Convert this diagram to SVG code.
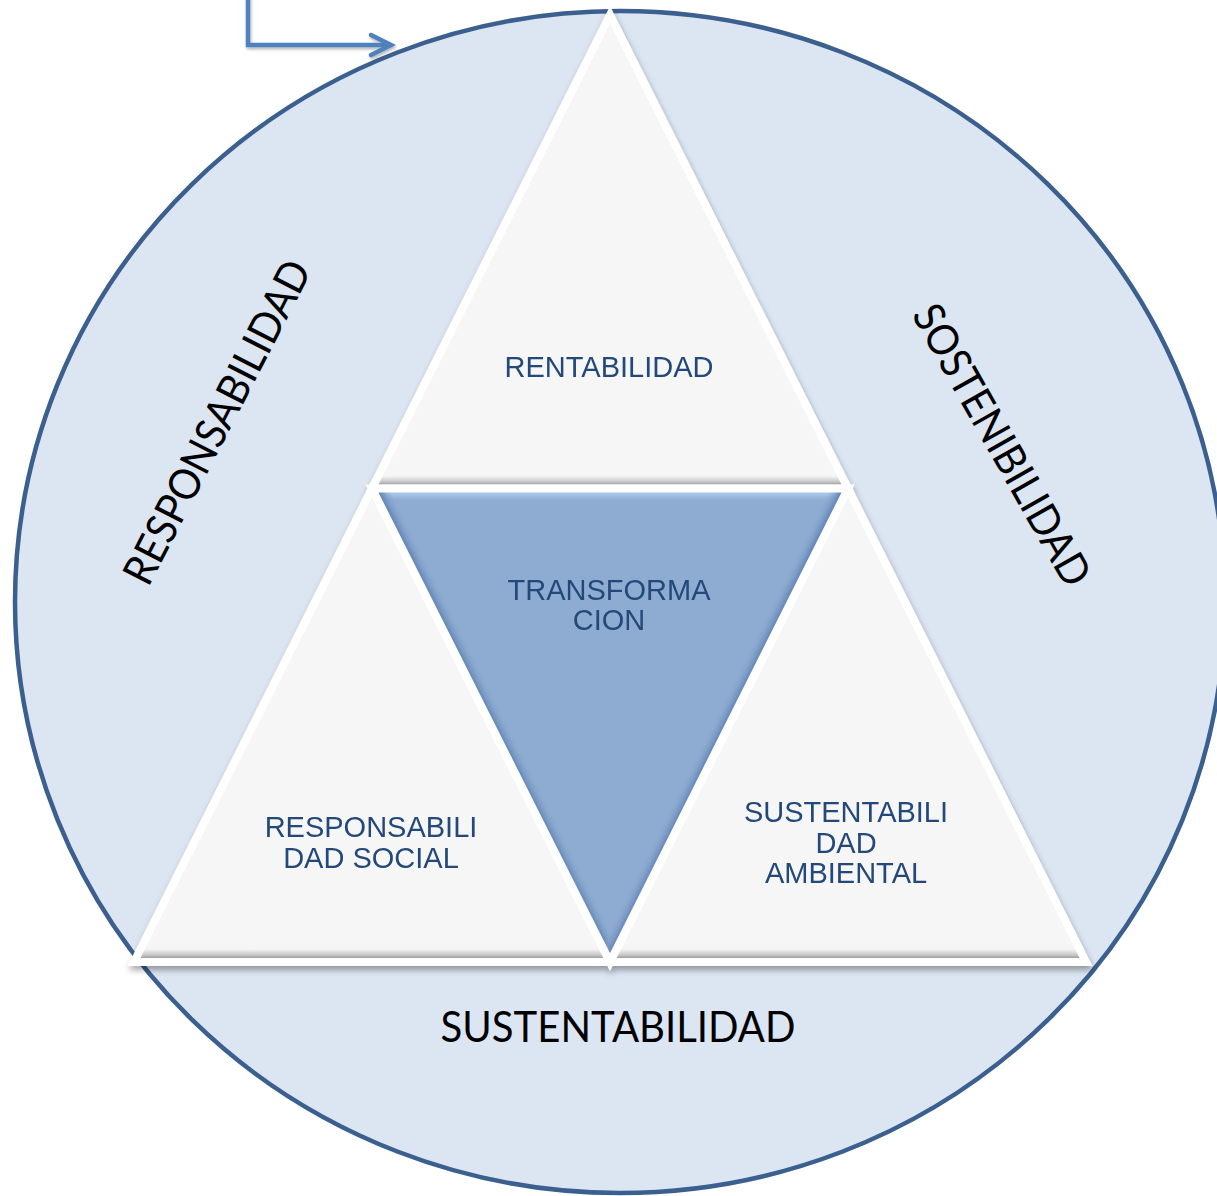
<svg xmlns="http://www.w3.org/2000/svg" width="1217" height="1196" viewBox="0 0 1217 1196">
<style>
.tri{fill:#f6f6f6}
.edge{fill:none;stroke:#ffffff;stroke-width:8;stroke-linejoin:miter;stroke-miterlimit:10}
.lbl{font-family:"Liberation Sans",Arial,sans-serif;font-size:29px;fill:#24497a;text-anchor:middle}
.big{font-family:Lato,"Liberation Sans",sans-serif;font-size:43px;fill:#000000;text-anchor:middle}
.conn{fill:none;stroke:#4f81bd;stroke-width:4.5;stroke-linejoin:miter}
</style>
<defs>
<filter id="sh" x="-10%" y="-10%" width="120%" height="120%">
<feDropShadow dx="1" dy="4" stdDeviation="3" flood-color="#000000" flood-opacity="0.35"/>
</filter>
<filter id="sh2" x="-10%" y="-50%" width="130%" height="200%">
<feDropShadow dx="1" dy="2" stdDeviation="1.5" flood-color="#000000" flood-opacity="0.3"/>
</filter>
<linearGradient id="baseG" x1="0" y1="0" x2="0" y2="1">
<stop offset="0" stop-color="#f6f6f6"/>
<stop offset="0.45" stop-color="#c8c8c8"/>
<stop offset="0.75" stop-color="#939393"/>
<stop offset="1" stop-color="#8a8a8a"/>
</linearGradient>
<linearGradient id="topB" x1="0" y1="488.5" x2="0" y2="502" gradientUnits="userSpaceOnUse">
<stop offset="0" stop-color="#b6cff0"/>
<stop offset="0.5" stop-color="#a4c0e6"/>
<stop offset="1" stop-color="#8eacd1" stop-opacity="0"/>
</linearGradient>
<linearGradient id="leftB" x1="491" y1="725.25" x2="505.3" y2="718.1" gradientUnits="userSpaceOnUse">
<stop offset="0" stop-color="#5577a8"/>
<stop offset="0.35" stop-color="#6e8fbe"/>
<stop offset="1" stop-color="#8eacd1" stop-opacity="0"/>
</linearGradient>
<linearGradient id="rightB" x1="729" y1="725.25" x2="714.7" y2="718.1" gradientUnits="userSpaceOnUse">
<stop offset="0" stop-color="#5577a8"/>
<stop offset="0.35" stop-color="#6e8fbe"/>
<stop offset="1" stop-color="#8eacd1" stop-opacity="0"/>
</linearGradient>
<clipPath id="invClip"><polygon points="372,488.5 848,488.5 610,962"/></clipPath>
<marker id="chev" markerUnits="userSpaceOnUse" markerWidth="30" markerHeight="30" refX="24" refY="15" orient="auto" viewBox="0 0 30 30">
<path d="M4,5 L24,15 L4,25" fill="none" stroke="#4f81bd" stroke-width="4.5" stroke-linecap="round" stroke-linejoin="miter"/>
</marker>
</defs>
<rect width="1217" height="1196" fill="#ffffff"/>

<g id="ring">
<ellipse cx="620" cy="602" rx="605" ry="591" fill="#dce6f2" stroke="#3b5f8e" stroke-width="4.5"/>
<text class="big" transform="translate(217,422) rotate(-62.7)" x="0" y="15" textLength="358" lengthAdjust="spacingAndGlyphs">RESPONSABILIDAD</text>
<text class="big" transform="translate(1002,445) rotate(60.5)" x="0" y="15" textLength="316" lengthAdjust="spacingAndGlyphs">SOSTENIBILIDAD</text>
<text class="big" x="618" y="1042" textLength="355" lengthAdjust="spacingAndGlyphs">SUSTENTABILIDAD</text>
</g>

<g id="connectors" filter="url(#sh2)">
<polyline class="conn" points="248,-5 248,45 391,45" marker-end="url(#chev)"/>
</g>

<g id="pyramid" filter="url(#sh)">
<g id="rentabilidad">
<polygon class="tri" points="610,15 372,488.5 848,488.5"/>
<polygon fill="url(#baseG)" points="378.3,476 841.7,476 848,488.5 372,488.5"/>
<polygon class="edge" points="610,15 372,488.5 848,488.5"/>
<text class="lbl" x="609" y="377">RENTABILIDAD</text>
</g>
<g id="resp-social">
<polygon class="tri" points="372,488.5 134,962 610,962"/>
<polygon fill="url(#baseG)" points="140.5,949 603.5,949 610,962 134,962"/>
<polygon class="edge" points="372,488.5 134,962 610,962"/>
<text class="lbl" x="371" y="837">RESPONSABILI</text>
<text class="lbl" x="371" y="868">DAD SOCIAL</text>
</g>
<g id="sust-ambiental">
<polygon class="tri" points="848,488.5 610,962 1086,962"/>
<polygon fill="url(#baseG)" points="616.5,949 1079.5,949 1086,962 610,962"/>
<polygon class="edge" points="848,488.5 610,962 1086,962"/>
<text class="lbl" x="846" y="822">SUSTENTABILI</text>
<text class="lbl" x="846" y="853">DAD</text>
<text class="lbl" x="846" y="883">AMBIENTAL</text>
</g>
<g id="transformacion">
<polygon fill="#8eacd1" points="372,488.5 848,488.5 610,962"/>
<g clip-path="url(#invClip)">
<polygon fill="url(#topB)" points="372,488.5 848,488.5 848,502 372,502"/>
<polygon fill="url(#leftB)" points="372,488.5 610,962 624.3,954.8 386.3,481.3"/>
<polygon fill="url(#rightB)" points="848,488.5 610,962 595.7,954.8 833.7,481.3"/>
</g>
<polygon class="edge" points="372,488.5 848,488.5 610,962"/>
<text class="lbl" x="609" y="600">TRANSFORMA</text>
<text class="lbl" x="609" y="630">CION</text>
</g>
</g>
</svg>
